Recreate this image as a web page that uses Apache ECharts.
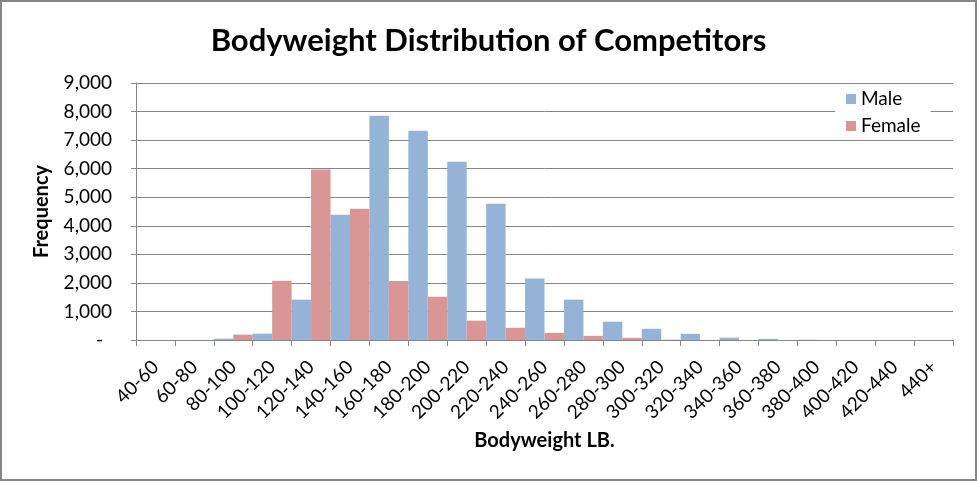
<!DOCTYPE html>
<html>
<head>
<meta charset="utf-8">
<script src="https://cdn.jsdelivr.net/npm/echarts@6/dist/echarts.min.js"></script>
<style>
  html, body { margin: 0; padding: 0; background: #fff; }
  #chart { width: 977px; height: 481px; }
</style>
</head>
<body>
<div id="chart"></div>
<script>
const categories = ['40-60','60-80','80-100','100-120','120-140','140-160','160-180','180-200','200-220','220-240','240-260','260-280','280-300','300-320','320-340','340-360','360-380','380-400','400-420','420-440','440+'];
const maleValues = [0, 0, 47, 222, 1412, 4387, 7853, 7328, 6243, 4773, 2150, 1412, 640, 392, 217, 82, 42, 10, 0, 0, 0];
const femaleValues = [0, 5, 187, 2077, 5970, 4597, 2065, 1517, 677, 428, 252, 146, 75, 12, 3, 0, 0, 0, 0, 0, 0];
const seriesNames = ['Male', 'Female'];
const yTicks = [0, 1000, 2000, 3000, 4000, 5000, 6000, 7000, 8000, 9000];

const FONT = 'Lato';
const AXIS_COLOR = '#868686';

const chart = echarts.init(document.getElementById('chart'), null, { renderer: 'canvas' });
chart.setOption({
  animation: false,
  backgroundColor: '#fff',
  title: {
    text: 'Bodyweight Distribution of Competitors',
    left: 'center',
    top: 20,
    textStyle: { fontFamily: FONT, fontWeight: 'bold', fontSize: 31, color: '#000' }
  },
  legend: {
    data: seriesNames,
    orient: 'vertical',
    left: 835,
    top: 87,
    width: 98,
    padding: [2, 10, 2, 11],
    backgroundColor: '#fff',
    icon: 'rect',
    itemWidth: 10,
    itemHeight: 10,
    itemGap: 7,
    textStyle: { fontFamily: FONT, fontSize: 19, color: '#000', lineHeight: 20 }
  },
  grid: { left: 136, right: 24, top: 83, bottom: 141, containLabel: false },
  xAxis: {
    type: 'category',
    data: categories,
    name: 'Bodyweight LB.',
    nameLocation: 'middle',
    nameGap: 91,
    nameTextStyle: { fontFamily: FONT, fontWeight: 'bold', fontSize: 20, color: '#000' },
    axisLine: { lineStyle: { color: AXIS_COLOR, width: 1 } },
    axisTick: { show: true, alignWithLabel: false, length: 6, lineStyle: { color: AXIS_COLOR } },
    axisLabel: { rotate: 45, margin: 24, fontFamily: FONT, fontSize: 19, color: '#000', interval: 0 },
    splitLine: { show: false }
  },
  yAxis: {
    type: 'value',
    min: 0,
    max: yTicks[yTicks.length - 1],
    interval: yTicks[1] - yTicks[0],
    name: 'Frequency',
    nameLocation: 'middle',
    nameGap: 84,
    nameRotate: 90,
    nameTextStyle: { fontFamily: FONT, fontWeight: 'bold', fontSize: 20, color: '#000' },
    axisLine: { show: true, lineStyle: { color: AXIS_COLOR, width: 1 } },
    axisTick: { show: true, length: 5, lineStyle: { color: AXIS_COLOR } },
    axisLabel: {
      margin: 24,
      fontFamily: FONT, fontSize: 19, color: '#000',
      formatter: v => v === 0 ? '{d|-}' : v.toLocaleString('en-US'),
      rich: { d: { fontFamily: FONT, fontSize: 19, color: '#000', padding: [0, 9, 0, 0] } }
    },
    splitLine: { show: true, lineStyle: { color: AXIS_COLOR, width: 1 } }
  },
  graphic: [{
    type: 'rect',
    silent: true,
    z: 100,
    shape: { x: 1, y: 1, width: 975, height: 479 },
    style: { fill: 'none', stroke: AXIS_COLOR, lineWidth: 2 }
  }],
  series: [
    {
      name: seriesNames[0],
      type: 'bar',
      data: maleValues,
      barGap: '0%',
      barCategoryGap: '0%',
      itemStyle: { color: '#95B3D7' }
    },
    {
      name: seriesNames[1],
      type: 'bar',
      data: femaleValues,
      barGap: '0%',
      barCategoryGap: '0%',
      itemStyle: { color: '#D99694' }
    }
  ]
});
</script>
</body>
</html>
